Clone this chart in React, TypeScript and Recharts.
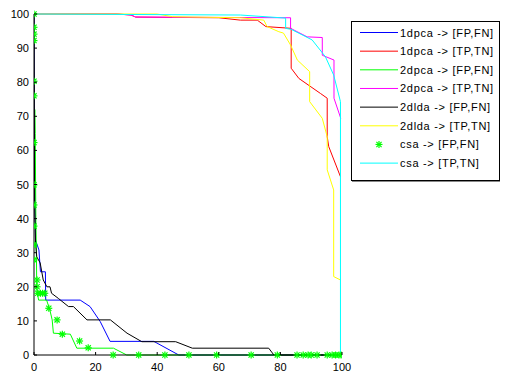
import React from "react";
import { ComposedChart, Line, Scatter, XAxis, YAxis } from "recharts";

// [x, y] points
const dpca1FP: [number, number][] = [
  [0, 100], [0.1, 60], [0.3, 45], [0.5, 33.7], [1.6, 30.8], [2.1, 24.4], [3.7, 24.4], [3.8, 16.1],
  [15, 16.1], [18.2, 14.2], [21.5, 9.8], [24.7, 4], [38.9, 4], [47, 0], [100, 0],
];
const dpca1TP: [number, number][] = [
  [0, 100], [27, 100], [31.5, 99.7], [33, 99.1], [60, 98.9], [67, 98.2], [72.5, 98.2], [75.3, 96.3],
  [83.5, 95.8], [83.5, 84.1], [86, 81.1], [93, 76.7], [95.2, 75.3], [95.2, 64], [95.7, 61.1],
  [99.5, 52.3],
];
const dpca2FP: [number, number][] = [
  [0.3, 72], [0.4, 65], [0.6, 40], [0.8, 28], [0.9, 19], [1.5, 16.1], [4.1, 16.1], [5.2, 13],
  [5.9, 10.3], [6.3, 6.4], [11.8, 6.1], [13.9, 2], [25.8, 2], [30.1, 0], [100, 0],
];
const dpca2TP: [number, number][] = [
  [0, 100], [27, 100], [31.5, 99.7], [33, 99.1], [83.3, 98.9], [83.3, 95.8], [88.7, 93.3],
  [93.6, 93.1], [93.6, 87.9], [97.4, 86.5], [97.4, 75.3], [99.6, 69.4],
];
const dlda2FP: [number, number][] = [
  [0, 100], [0.2, 45], [0.5, 33], [0.9, 28.8], [2, 27], [3, 22], [4.2, 20], [5.2, 20], [5.7, 18.1],
  [7.9, 16.6], [11.2, 14.2], [12.8, 14.2], [17.2, 10.3], [24.8, 10.3], [30.2, 6.4], [35, 3.9],
  [46, 3.9], [51.4, 2], [76.2, 2], [77.9, 0], [100, 0],
];
const dlda2TP: [number, number][] = [
  [0, 100], [40, 100], [45, 99.2], [67, 98.9], [74.6, 98.2], [75.7, 96.3], [79.5, 94.8], [81, 94.4],
  [83.3, 90.9], [85.5, 86.5], [89.5, 83.1], [89.5, 74.3], [93.6, 69.4], [95.2, 64], [95.2, 54.3],
  [97.3, 48.4], [97.3, 23], [99.5, 22],
];
const csaFP: [number, number][] = [
  [0, 100], [0, 96.1], [0, 94.1], [0, 92.2], [0, 80.3], [0, 76], [0, 62.3], [0, 49.9], [0, 44],
  [0, 37.8], [0, 32.3], [0, 27.9], [1, 22], [1, 20], [1.2, 18.1], [2.1, 18.1], [2.8, 18.1],
  [3.5, 18.1], [4.8, 13.7], [7.5, 10.3], [9.2, 6.1], [14.8, 4.1], [17.6, 2.1], [25.7, 0], [34, 0],
  [42.5, 0], [50.3, 0], [59.3, 0], [70.5, 0], [79, 0], [85.4, 0], [87.4, 0], [89, 0], [90, 0],
  [91.9, 0], [95.2, 0], [96.8, 0], [97.9, 0], [99, 0], [99.7, 0],
];
const csaTP: [number, number][] = [
  [0, 100], [67, 99.7], [81.7, 98.8], [81.7, 95.8], [83.5, 95.5], [90.3, 92.4], [94.6, 87.5],
  [97.3, 82.1], [99.5, 74.3], [99.5, 0],
];

const xTicks = [0, 20, 40, 60, 80, 100];
const yTicks = [0, 10, 20, 30, 40, 50, 60, 70, 80, 90, 100];

const legendNames = [
  "1dpca -> [FP,FN]", "1dpca -> [TP,TN]", "2dpca -> [FP,FN]", "2dpca -> [TP,TN]",
  "2dlda -> [FP,FN]", "2dlda -> [TP,TN]", "csa -> [FP,FN]", "csa -> [TP,TN]",
];
const colors = ["#0000ff", "#ff0000", "#00ff00", "#ff00ff", "#000000", "#ffff00", "#00ff00", "#00ffff"];

const FONT = '"Liberation Sans", Arial, sans-serif';

const toRows = (pts: [number, number][]) => pts.map(([x, y]) => ({ x, y }));

function Star({ cx, cy }: { cx: number; cy: number }) {
  const r = 3.5;
  const d = 2.6;
  return (
    <g stroke="#00ff00" strokeWidth={1.2}>
      <line x1={cx - r} x2={cx + r} y1={cy} y2={cy} />
      <line x1={cx} x2={cx} y1={cy - r} y2={cy + r} />
      <line x1={cx - d} x2={cx + d} y1={cy - d} y2={cy + d} />
      <line x1={cx - d} x2={cx + d} y1={cy + d} y2={cy - d} />
    </g>
  );
}

const YTick = (props: any) => {
  const { x, y, payload } = props;
  return (
    <g>
      <line x1={x + 5} x2={x + 8} y1={y} y2={y} stroke="#000" />
      <text x={x} y={y} dy={4} textAnchor="end" fontSize={11} fontFamily={FONT} fill="#000">
        {payload.value}
      </text>
    </g>
  );
};

const XTick = (props: any) => {
  const { x, y, payload } = props;
  return (
    <g>
      <line x1={x} x2={x} y1={y} y2={y - 3} stroke="#000" />
      <text x={x} y={y + 16} textAnchor="middle" fontSize={11} fontFamily={FONT} fill="#000">
        {payload.value}
      </text>
    </g>
  );
};

function LegendBox() {
  return (
    <svg width={152} height={164} style={{ position: "absolute", left: 350, top: 20 }}>
      <rect x={1.5} y={1.5} width={148} height={159} fill="#fff" stroke="#000" />
      <line x1={2} x2={150} y1={161.5} y2={161.5} stroke="#888" />
      {legendNames.map((name, i) => {
        const cy = 12.5 + i * 18.66;
        return (
          <g key={name}>
            {i === 6 ? (
              <Star cx={29} cy={cy} />
            ) : (
              <line x1={10} x2={48} y1={cy} y2={cy} stroke={colors[i]} strokeWidth={1} />
            )}
            <text x={50} y={cy + 4} fontSize={11} fontFamily={FONT} letterSpacing={0.7} fill="#000">
              {name}
            </text>
          </g>
        );
      })}
    </svg>
  );
}

export default function App() {
  const lines = [dpca1FP, dpca1TP, dpca2FP, dpca2TP, dlda2FP, dlda2TP];
  return (
    <div style={{ position: "absolute", left: 0, top: 0, width: 506, height: 373, background: "#fff" }}>
      <ComposedChart width={506} height={373} margin={{ top: 14, right: 164, bottom: 0, left: 0 }}>
        <XAxis
          dataKey="x"
          type="number"
          domain={[0, 100]}
          ticks={xTicks}
          height={18}
          tickSize={0}
          tickMargin={0}
          tickLine={false}
          axisLine={{ stroke: "#000" }}
          tick={<XTick />}
          allowDataOverflow
        />
        <YAxis
          type="number"
          domain={[0, 100]}
          ticks={yTicks}
          width={34}
          tickSize={0}
          tickMargin={5}
          tickLine={false}
          axisLine={{ stroke: "#000" }}
          tick={<YTick />}
        />
        {lines.map((pts, i) => (
          <Line
            key={i}
            data={toRows(pts)}
            dataKey="y"
            type="linear"
            stroke={colors[i]}
            strokeWidth={1}
            dot={false}
            activeDot={false}
            isAnimationActive={false}
          />
        ))}
        <Scatter
          data={toRows(csaFP)}
          dataKey="y"
          shape={(p: any) => <Star cx={p.cx} cy={p.cy} />}
          isAnimationActive={false}
        />
        <Line
          data={toRows(csaTP)}
          dataKey="y"
          type="linear"
          stroke={colors[7]}
          strokeWidth={1}
          dot={false}
          activeDot={false}
          isAnimationActive={false}
        />
      </ComposedChart>
      <LegendBox />
    </div>
  );
}
